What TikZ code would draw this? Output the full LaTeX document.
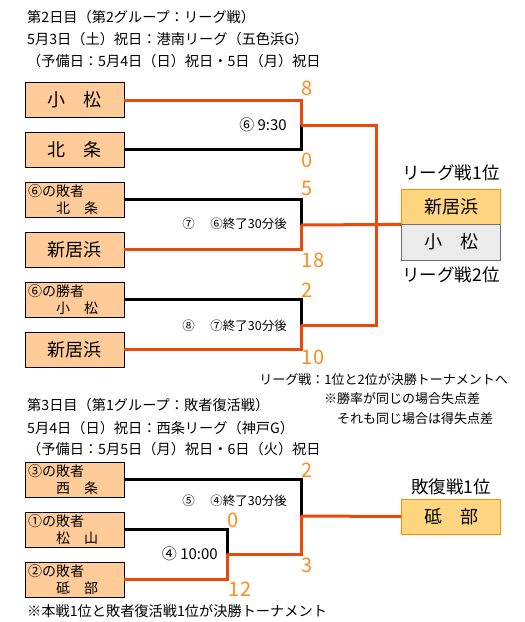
\documentclass[tikz,border=0pt]{standalone}
\usepackage{fontspec}
\setmainfont{Noto Sans CJK JP}
\usetikzlibrary{calc}

\definecolor{winred}{RGB}{236,72,8}
\definecolor{scoreorange}{RGB}{255,140,26}
\definecolor{teamfill}{RGB}{255,204,153}
\definecolor{rankfill}{RGB}{255,213,128}
\definecolor{rankedge}{RGB}{255,140,0}
\definecolor{secondfill}{RGB}{235,235,235}
\definecolor{secondedge}{RGB}{110,110,110}

\tikzset{
    teambox/.style={draw=black, line width=0.8pt, fill=teamfill, minimum width=99pt,
        minimum height=35pt, inner sep=0pt, font=\fontsize{18}{20}\selectfont},
    subbox/.style={teambox, align=left, text width=93pt, font=\fontsize{14}{17}\selectfont},
    rankbox/.style={teambox, draw=rankedge, fill=rankfill},
    secondbox/.style={teambox, draw=secondedge, fill=secondfill, minimum height=36pt},
    winline/.style={draw=winred, line width=3pt},
    loseline/.style={draw=black, line width=3pt},
    score/.style={text=scoreorange, inner sep=0pt, font=\fontsize{20}{22}\selectfont},
    headtext/.style={anchor=west, inner sep=0pt, font=\fontsize{14.2}{16}\selectfont},
    notetext/.style={inner sep=0pt, font=\fontsize{13}{15}\selectfont},
    matchtext/.style={anchor=east, inner sep=0pt, font=\fontsize{12.5}{15}\selectfont},
    timetext/.style={anchor=east, inner sep=0pt, font=\fontsize{15}{17}\selectfont},
    ranktext/.style={inner sep=0pt, font=\fontsize{17.5}{20}\selectfont},
}

\begin{document}
\begin{tikzpicture}[x=1pt, y=-1pt]
    \useasboundingbox (0,0) rectangle (525,622);

    % =========================================================================
    % DAY 2: league
    % =========================================================================
    \node[headtext] (head2a) at (27,17) {第2日目（第2グループ：リーグ戦）};
    \node[headtext] (head2b) at (27,39) {5月3日（土）祝日：港南リーグ（五色浜G）};
    \node[headtext] (head2c) at (27,61) {（予備日：5月4日（日）祝日・5日（月）祝日};

    % --- Teams ---
    \node[teambox] (komatsu) at (74.5,100) {小　松};
    \node[teambox] (hojo) at (74.5,149.5) {北　条};
    \node[subbox] (loser6) at (74.5,199.5) {⑥の敗者\\　　北　条};
    \node[teambox] (niihamaA) at (74.5,249.5) {新居浜};
    \node[subbox] (winner6) at (74.5,299.5) {⑥の勝者\\　　小　松};
    \node[teambox] (niihamaB) at (74.5,349.5) {新居浜};

    % --- Match points ---
    \coordinate (m6) at (301,125);
    \coordinate (m7) at (301,225);
    \coordinate (m8) at (301,325);
    \coordinate (jtop) at (376,125);
    \coordinate (jbot) at (376,325);

    % --- Brackets ---
    \draw[winline] (komatsu.east) -| (m6);
    \draw[loseline] (hojo.east) -| (m6);
    \draw[loseline] (loser6.east) -| (m7);
    \draw[winline] (niihamaA.east) -| (m7);
    \draw[loseline] (winner6.east) -| (m8);
    \draw[winline] (niihamaB.east) -| (m8);
    \draw[winline] (m6) -- (jtop) -- (jbot) -- (m8);

    % --- Result ---
    \node[rankbox] (first) at (451,206.5) {新居浜};
    \node[secondbox] (second) at (451,242) {小　松};
    \draw[winline] (m7) -- (first.south west);
    \node[ranktext] (firstlbl) at (451,173) {リーグ戦1位};
    \node[ranktext] (secondlbl) at (451,275) {リーグ戦2位};

    % --- Scores and match labels ---
    \node[score] at (307,88) {8};
    \node[score] at (307,160) {0};
    \node[score] at (307,188) {5};
    \node[score] at (313,260) {18};
    \node[score] at (307,290) {2};
    \node[score] at (313,357) {10};
    \node[timetext] (t6) at (287,125) {⑥ 9:30};
    \node[matchtext] (t7) at (287,224) {⑦\hspace{1.25em}⑥終了30分後};
    \node[matchtext] (t8) at (287,326) {⑧\hspace{1.25em}⑦終了30分後};

    % --- Notes ---
    \node[notetext, anchor=east] (note1) at (508,380) {リーグ戦：1位と2位が決勝トーナメントへ};
    \node[notetext, anchor=west] (note2) at (324,399) {※勝率が同じの場合失点差};
    \node[notetext, anchor=west] (note3) at (337,419) {それも同じ場合は得失点差};

    % =========================================================================
    % DAY 3: repechage
    % =========================================================================
    \node[headtext] (head3a) at (27,405) {第3日目（第1グループ：敗者復活戦）};
    \node[headtext] (head3b) at (27,428) {5月4日（日）祝日：西条リーグ（神戸G）};
    \node[headtext] (head3c) at (27,449) {（予備日：5月5日（月）祝日・6日（火）祝日};

    \node[subbox] (loser3) at (74.5,479.5) {③の敗者\\　　西　条};
    \node[subbox] (loser1) at (74.5,529.5) {①の敗者\\　　松　山};
    \node[subbox] (loser2) at (74.5,579.5) {②の敗者\\　　砥　部};

    \coordinate (m4) at (227,554);
    \coordinate (m5) at (301,516);

    \draw[loseline] (loser3.east) -| (m5);
    \draw[loseline] (loser1.east) -| (m4);
    \draw[winline] (loser2.east) -| (m4);
    \draw[winline] (m4) -| (m5);

    \node[rankbox] (repfirst) at (451,516.5) {砥　部};
    \draw[winline] (m5) -- (repfirst.west);
    \node[ranktext] (repfirstlbl) at (451,487) {敗復戦1位};

    \node[score] at (307,470) {2};
    \node[score] at (233,520) {0};
    \node[score] at (307,565) {3};
    \node[score] at (240,589) {12};
    \node[matchtext] (t5) at (287,501) {⑤\hspace{1.25em}④終了30分後};
    \node[timetext] (t4) at (218,554) {④ 10:00};

    \node[headtext] (note4) at (27,611) {※本戦1位と敗者復活戦1位が決勝トーナメント};
\end{tikzpicture}
\end{document}
